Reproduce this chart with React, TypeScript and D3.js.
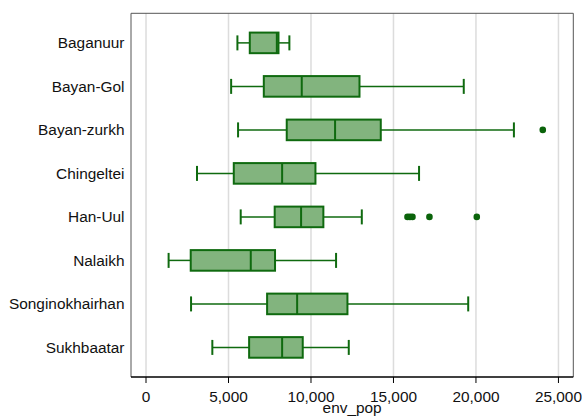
import React from "react";
import * as d3 from "d3";

const categories = ["Baganuur", "Bayan-Gol", "Bayan-zurkh", "Chingeltei", "Han-Uul", "Nalaikh", "Songinokhairhan", "Sukhbaatar"];
const whiskerLow = [5540, 5160, 5580, 3090, 5740, 1370, 2730, 4020];
const q1 = [6290, 7140, 8530, 5320, 7800, 2710, 7340, 6250];
const median = [7930, 9440, 11460, 8250, 9400, 6350, 9160, 8250];
const q3 = [8030, 12940, 14230, 10270, 10750, 7820, 12210, 9500];
const whiskerHigh = [8690, 19260, 22300, 16550, 13080, 11520, 19530, 12290];
const outliers: [string, number][] = [
  ["Bayan-zurkh", 24050],
  ["Han-Uul", 15850],
  ["Han-Uul", 16000],
  ["Han-Uul", 16150],
  ["Han-Uul", 17180],
  ["Han-Uul", 20050],
];
const xTicks = [0, 5000, 10000, 15000, 20000, 25000];
const xTitle = "env_pop";

const W = 582, H = 419;
const left = 131, right = 573.3, top = 13.3, bottom = 377;
const stroke = "#0f6a0f";
const fill = "#82b47e";
const font = "'Liberation Sans', Arial, sans-serif";
const fs = 15.4;

export default function App() {
  const x = d3.scaleLinear().domain([-910, 25900]).range([left, right]);
  const y = d3.scalePoint<string>().domain(categories).range([top, bottom]).padding(0.68);
  const fmt = d3.format(",");
  const bh = 10.3;
  const ch = 7.5;
  return (
    <svg width={W} height={H} style={{ position: "absolute", left: 0, top: 0 }} fontFamily={font}>
      <rect x={0} y={0} width={W} height={H} fill="#fff" />
      {xTicks.map((t) => (
        <line key={"g" + t} x1={x(t)} x2={x(t)} y1={top} y2={bottom} stroke="#dcdcdc" strokeWidth={1.5} />
      ))}
      <path d={`M${left},${bottom}V${top}H${right}V${bottom}`} fill="none" stroke="#555" strokeWidth={1} />
      {categories.map((c, i) => {
        const cy = y(c)!;
        return (
          <g key={c}>
            <line x1={x(whiskerLow[i])} x2={x(q1[i])} y1={cy} y2={cy} stroke={stroke} strokeWidth={1.5} />
            <line x1={x(q3[i])} x2={x(whiskerHigh[i])} y1={cy} y2={cy} stroke={stroke} strokeWidth={1.5} />
            <line x1={x(whiskerLow[i])} x2={x(whiskerLow[i])} y1={cy - ch} y2={cy + ch} stroke={stroke} strokeWidth={2} />
            <line x1={x(whiskerHigh[i])} x2={x(whiskerHigh[i])} y1={cy - ch} y2={cy + ch} stroke={stroke} strokeWidth={2} />
            <rect x={x(q1[i])} y={cy - bh} width={x(q3[i]) - x(q1[i])} height={bh * 2} fill={fill} stroke={stroke} strokeWidth={2} />
            <line x1={x(median[i])} x2={x(median[i])} y1={cy - bh} y2={cy + bh} stroke={stroke} strokeWidth={2} />
            <text x={124.5} y={cy} dy="0.35em" textAnchor="end" fontSize={fs} fill="#111">{c}</text>
          </g>
        );
      })}
      {outliers.map(([c, v], i) => (
        <circle key={"o" + i} cx={x(v)} cy={y(c)!} r={3.3} fill="#0a630a" />
      ))}
      <line x1={left} x2={right} y1={bottom} y2={bottom} stroke="#000" strokeWidth={1.5} />
      {xTicks.map((t) => (
        <g key={"t" + t}>
          <line x1={x(t)} x2={x(t)} y1={bottom} y2={bottom + 6} stroke="#000" strokeWidth={1} />
          <text x={x(t)} y={401.5} textAnchor="middle" fontSize={fs} fill="#111">{fmt(t)}</text>
        </g>
      ))}
      <text x={(left + right) / 2} y={412.5} textAnchor="middle" fontSize={fs} fill="#111">{xTitle}</text>
    </svg>
  );
}
